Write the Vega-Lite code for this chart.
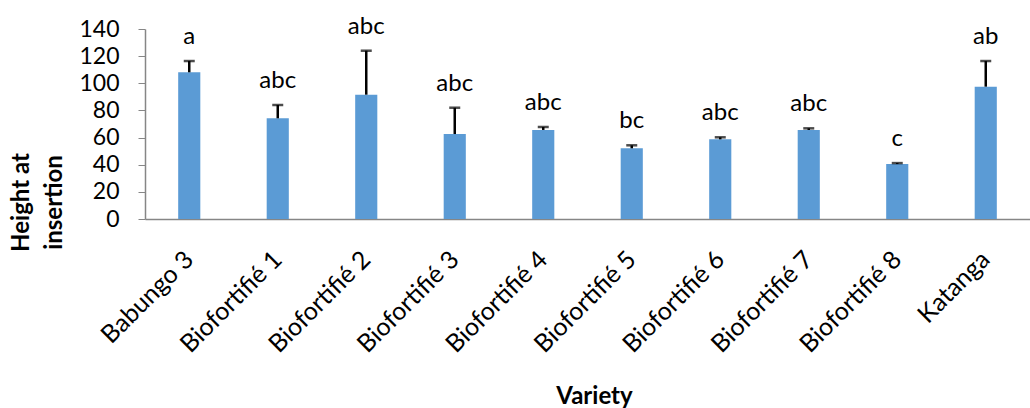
{
  "$schema": "https://vega.github.io/schema/vega-lite/v6.json",
  "width": 885,
  "height": 190,
  "autosize": {"type": "none"},
  "padding": {"left": 145, "top": 29, "right": 0, "bottom": 189},
  "background": "white",
  "config": {
    "view": {"stroke": null},
    "font": "Lato",
    "axis": {"labelFont": "Lato", "titleFont": "Lato", "labelOverlap": false},
    "axisY": {"labelOverlap": false, "labelFlush": false, "labelFontSize": 23}
  },
  "data": {
    "values": [
      {"Variety": "Babungo 3", "mean": 108.1, "upper": 116.4, "letter": "a"},
      {"Variety": "Biofortifié 1", "mean": 74.2, "upper": 84.0, "letter": "abc"},
      {"Variety": "Biofortifié 2", "mean": 91.6, "upper": 124.0, "letter": "abc"},
      {"Variety": "Biofortifié 3", "mean": 62.6, "upper": 82.0, "letter": "abc"},
      {"Variety": "Biofortifié 4", "mean": 65.6, "upper": 67.8, "letter": "abc"},
      {"Variety": "Biofortifié 5", "mean": 52.1, "upper": 54.3, "letter": "bc"},
      {"Variety": "Biofortifié 6", "mean": 58.7, "upper": 60.2, "letter": "abc"},
      {"Variety": "Biofortifié 7", "mean": 65.6, "upper": 66.8, "letter": "abc"},
      {"Variety": "Biofortifié 8", "mean": 40.5, "upper": 41.2, "letter": "c"},
      {"Variety": "Katanga", "mean": 97.5, "upper": 116.4, "letter": "ab"}
    ]
  },
  "encoding": {
    "x": {
      "field": "Variety",
      "type": "nominal",
      "sort": null,
      "scale": {"paddingInner": 0.75, "paddingOuter": 0.375},
      "axis": {
        "title": "Variety",
        "titleFontSize": 24,
        "titleFontWeight": "bold",
        "titleColor": "black",
        "titleBaseline": "alphabetic",
        "titleY": 184,
        "titleX": 449,
        "labelAngle": -45,
        "labelAlign": "right",
        "labelBaseline": "middle",
        "labelFontSize": 25,
        "labelColor": "black",
        "labelPadding": 36,
        "labelDx": 5,
        "labelOverlap": false,
        "labelBound": false,
        "ticks": false,
        "domainColor": "#868686",
        "domainWidth": 1.5,
        "grid": false
      }
    },
    "y": {
      "field": "mean",
      "type": "quantitative",
      "scale": {"domain": [0, 140], "nice": false},
      "axis": {
        "values": [0, 20, 40, 60, 80, 100, 120, 140],
        "title": ["Height at", "insertion"],
        "titleFontSize": 24,
        "titleFontWeight": "bold",
        "titleColor": "black",
        "titleAngle": -90,
        "titleAlign": "center",
        "titleBaseline": "alphabetic",
        "titleLineHeight": 33,
        "titleX": -117,
        "titleY": 173,
        "labelFontSize": 23,
        "labelColor": "black",
        "labelPadding": 19,
        "labelOverlap": false,
        "labelFlush": false,
        "tickSize": 7,
        "tickColor": "#868686",
        "domainColor": "#868686",
        "domainWidth": 1.5,
        "grid": false
      }
    }
  },
  "layer": [
    {
      "mark": {"type": "bar", "color": "#5B9BD5"}
    },
    {
      "mark": {"type": "rule", "color": "black", "strokeWidth": 2.5},
      "encoding": {
        "y2": {"field": "upper"}
      }
    },
    {
      "mark": {"type": "tick", "color": "black", "thickness": 2.5, "size": 11},
      "encoding": {
        "y": {
          "field": "upper",
          "type": "quantitative",
          "axis": {
            "values": [0, 20, 40, 60, 80, 100, 120, 140],
            "title": ["Height at", "insertion"],
            "titleFontSize": 24,
            "titleFontWeight": "bold",
            "titleColor": "black",
            "titleAngle": -90,
            "titleAlign": "center",
            "titleBaseline": "alphabetic",
            "titleLineHeight": 33,
            "titleX": -117,
            "titleY": 173,
            "labelFontSize": 23,
            "labelColor": "black",
            "labelPadding": 19,
            "labelOverlap": false,
            "labelFlush": false,
            "tickSize": 7,
            "tickColor": "#868686",
            "domainColor": "#868686",
            "domainWidth": 1.5,
            "grid": false
          }
        }
      }
    },
    {
      "mark": {"type": "text", "fontSize": 24, "baseline": "alphabetic", "dy": -17, "color": "black"},
      "encoding": {
        "y": {
          "field": "upper",
          "type": "quantitative",
          "axis": {
            "values": [0, 20, 40, 60, 80, 100, 120, 140],
            "title": ["Height at", "insertion"],
            "titleFontSize": 24,
            "titleFontWeight": "bold",
            "titleColor": "black",
            "titleAngle": -90,
            "titleAlign": "center",
            "titleBaseline": "alphabetic",
            "titleLineHeight": 33,
            "titleX": -117,
            "titleY": 173,
            "labelFontSize": 23,
            "labelColor": "black",
            "labelPadding": 19,
            "labelOverlap": false,
            "labelFlush": false,
            "tickSize": 7,
            "tickColor": "#868686",
            "domainColor": "#868686",
            "domainWidth": 1.5,
            "grid": false
          }
        },
        "text": {"field": "letter"}
      }
    }
  ]
}
